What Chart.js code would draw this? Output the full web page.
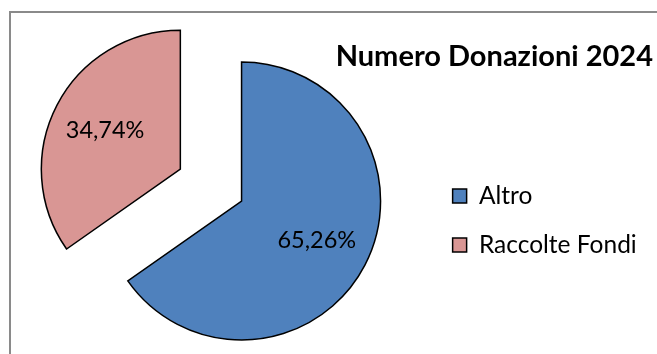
<!DOCTYPE html>
<html>
<head>
<meta charset="utf-8">
<script src="https://cdn.jsdelivr.net/npm/chart.js@4.4.1/dist/chart.umd.min.js"></script>
<style>
  html, body { margin: 0; padding: 0; background: #fff; overflow: hidden; }
  #wrap { position: relative; width: 657px; height: 354px; }
  #frame { position: absolute; left: 9px; top: 11px; width: 720px; height: 420px; border: 2px solid #8a8a8a; box-sizing: border-box; }
  #chartBox { position: absolute; left: 0; top: 0; width: 657px; height: 354px; }
</style>
</head>
<body>
<div id="wrap">
  <div id="frame"></div>
  <div id="chartBox"><canvas id="myChart"></canvas></div>
</div>
<script>
// DATA
var categories = ['Altro', 'Raccolte Fondi'];
var percentuali = [65.26, 34.74];
var colori = ['#4F81BD', '#D99694'];
var titolo = 'Numero Donazioni 2024';

// sposta le fette "esplose" lungo la bisettrice
const explodePlugin = {
  id: 'explode',
  afterDatasetUpdate: function (chart, args, opts) {
    var meta = chart.getDatasetMeta(args.index);
    meta.data.forEach(function (arc, i) {
      var d = (opts.distances || [])[i] || 0;
      var mid = (arc.startAngle + arc.endAngle) / 2;
      arc.x += Math.cos(mid) * d;
      arc.y += Math.sin(mid) * d;
    });
  }
};

// etichette percentuali dentro le fette
const labelPlugin = {
  id: 'sliceLabels',
  afterDatasetsDraw: function (chart, args, opts) {
    var ctx = chart.ctx;
    var meta = chart.getDatasetMeta(0);
    ctx.save();
    ctx.font = opts.font;
    ctx.fillStyle = opts.color;
    ctx.textAlign = 'center';
    ctx.textBaseline = 'middle';
    meta.data.forEach(function (arc, i) {
      var mid = (arc.startAngle + arc.endAngle) / 2;
      var r = arc.outerRadius * opts.position;
      var txt = percentuali[i].toFixed(2).replace('.', ',') + '%';
      ctx.fillText(txt, arc.x + Math.cos(mid) * r, arc.y + Math.sin(mid) * r);
    });
    ctx.restore();
  }
};

const data = {
  labels: categories,
  datasets: [{
    data: percentuali,
    backgroundColor: colori,
    borderColor: '#000000',
    borderWidth: 1.5,
    borderJoinStyle: 'miter',
    radius: 139,
    clip: false
  }]
};

const config = {
  type: 'pie',
  data: data,
  plugins: [explodePlugin, labelPlugin],
  options: {
    responsive: true,
    maintainAspectRatio: false,
    animation: false,
    events: [],
    layout: {
      padding: { left: 55, right: 4, top: 26, bottom: 26.4 }
    },
    plugins: {
      explode: { distances: [0, 69] },
      sliceLabels: { font: '23.5px Lato', color: '#000000', position: 0.61 },
      tooltip: { enabled: false },
      title: {
        display: true,
        text: titolo,
        align: 'end',
        color: '#000000',
        font: { family: 'Lato', size: 29, weight: 'bold', lineHeight: 1.2 },
        padding: { top: 13.6, bottom: 0 }
      },
      legend: {
        display: true,
        position: 'right',
        fullSize: false,
        title: { display: true, text: '', font: { size: 39, lineHeight: 1 }, padding: 0 },
        labels: {
          boxWidth: 14,
          boxHeight: 14,
          padding: 24.5,
          color: '#000000',
          font: { family: 'Lato', size: 24.5 },
          generateLabels: function (chart) {
            // spazio extra a destra della legenda
            return Chart.overrides.pie.plugins.legend.labels.generateLabels(chart).map(function (item) {
              item.text = item.text + ' ';
              return item;
            });
          }
        }
      }
    }
  }
};

const myChart = new Chart(document.getElementById('myChart'), config);
</script>
</body>
</html>
